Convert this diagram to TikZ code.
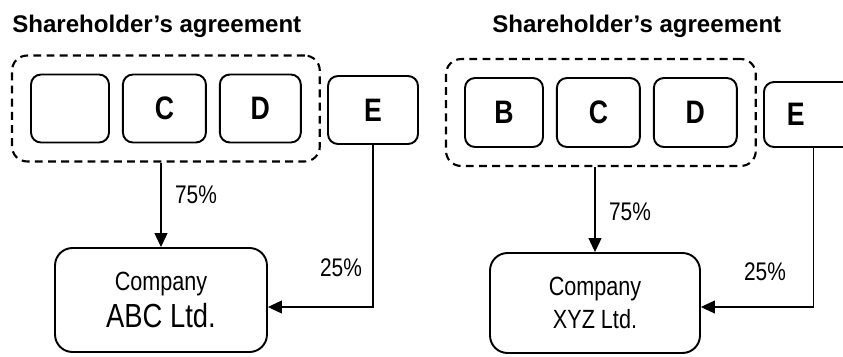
\documentclass[tikz,border=0pt]{standalone}
\usepackage{fontspec}
\setmainfont{Liberation Sans}
\newfontfamily\narrowfont[FakeStretch=0.82]{Liberation Sans}
\usetikzlibrary{positioning, arrows.meta, fit}

\begin{document}
\begin{tikzpicture}[
    x=0.02cm, y=-0.02cm,
    node distance=0.24cm,
    heading/.style={anchor=west, inner sep=0pt, font=\fontsize{13.7}{16}\selectfont\bfseries},
    member/.style={rectangle, rounded corners=0.2cm, draw, line width=1.1pt, minimum height=1.36cm, minimum width=1.6cm, font=\narrowfont\bfseries\fontsize{18.5}{20}\selectfont},
    group/.style={rectangle, rounded corners=0.3cm, draw, dash pattern=on 4.5pt off 3pt, line width=1.2pt, inner sep=0.36cm},
    company/.style={rectangle, rounded corners=0.35cm, draw, line width=1.1pt, align=center, font=\narrowfont\fontsize{15}{18}\selectfont},
    share/.style={font=\narrowfont\fontsize{14.5}{16}\selectfont},
    owns/.style={line width=0.6pt, -{Triangle[length=0.28cm, width=0.26cm]}}
]

\useasboundingbox (0,0) rectangle (843,356);
\clip (0,0) rectangle (843,356);

% Left agreement
\node[heading] (titleL) at (12,26) {Shareholder’s agreement};
\node[member, minimum width=1.56cm] (a1) at (70,108.5) {};
\node[member, minimum width=1.66cm, right=of a1] (c1) {C};
\node[member, minimum width=1.62cm, right=of c1] (d1) {D};
\node[member, minimum width=1.8cm] (e1) at (373,110) {E};
\node[group, fit=(a1)(d1)] (group1) {};
\node[company, minimum width=4.24cm, minimum height=2.08cm] (comp1) at (161,300) {Company\\[3pt]{\fontsize{19}{20}\selectfont ABC Ltd.}};

\draw[owns] (comp1.north |- group1.south) -- (comp1.north);
\draw[owns] (e1.south) |- ([yshift=-0.14cm]comp1.east);
\node[share] (p75L) at (196,195) {75\%};
\node[share] (p25L) at (341,268) {25\%};

% Right agreement
\node[heading] (titleR) at (492,26) {Shareholder’s agreement};
\node[member, minimum width=1.56cm, minimum height=1.38cm] (b2) at (504,112.5) {B};
\node[member, minimum width=1.66cm, minimum height=1.38cm, right=of b2] (c2) {C};
\node[member, minimum width=1.66cm, minimum height=1.38cm, right=of c2] (d2) {D};
\node[member, anchor=west, minimum height=1.3cm, text width=1.08cm, inner xsep=0.46cm, align=left] (e2) at (763,114.5) {E};
\node[group, fit=(b2)(d2)] (group2) {};
\node[company, minimum width=4.2cm, minimum height=2cm] (comp2) at (595,303) {Company\\[1pt]XYZ Ltd.};

\draw[owns] (comp2.north |- group2.south) -- (comp2.north);
\draw[owns] (e2.south) |- ([yshift=-0.08cm]comp2.east);
\node[share] (p75R) at (630,212) {75\%};
\node[share] (p25R) at (765,272) {25\%};

\end{tikzpicture}
\end{document}
